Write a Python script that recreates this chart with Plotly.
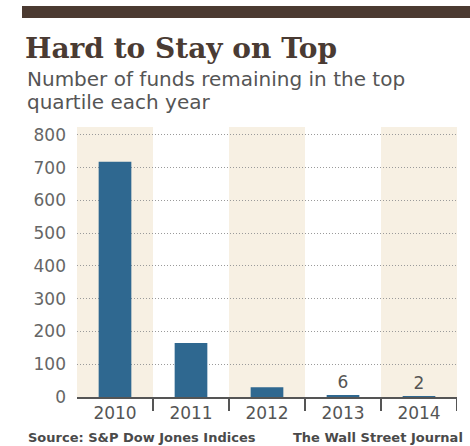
import plotly.graph_objects as go

years = ["2010", "2011", "2012", "2013", "2014"]
funds = [718, 165, 30, 6, 2]
bar_labels = ["", "", "", "6", "2"]
y_ticks = [0, 100, 200, 300, 400, 500, 600, 700, 800]

W_PX, H_PX = 470, 446
L, R, T, B = 77, 457, 127, 397


def px_x(p):
    return (p - L) / (R - L)


def px_y(p):
    return (B - p) / (B - T)


fig = go.Figure()
fig.add_trace(go.Bar(
    x=years, y=funds, width=0.43,
    marker=dict(color="#2f6890", line=dict(width=0)),
    text=bar_labels, textposition="outside", cliponaxis=False,
    textfont=dict(family="DejaVu Sans", size=17, color="#555555"),
    hoverinfo="skip",
))

shapes = []
for i, yr in enumerate(years):
    if i % 2 == 0:
        shapes.append(dict(type="rect", xref="x", yref="paper", x0=i - 0.5, x1=i + 0.5,
                           y0=0, y1=1, fillcolor="#f7f0e3", line=dict(width=0), layer="below"))
for i in range(len(years)):
    shapes.append(dict(type="line", xref="x", yref="paper", x0=i + 0.5, x1=i + 0.5,
                       y0=0, y1=px_y(411), line=dict(color="#555555", width=2)))
shapes.append(dict(type="rect", xref="paper", yref="paper", x0=px_x(22), x1=px_x(470),
                   y0=px_y(18), y1=px_y(6), fillcolor="#4b3a31", line=dict(width=0)))

annotations = [
    dict(text="<b>Hard to Stay on Top</b>", xref="paper", yref="paper", x=px_x(23), y=px_y(48),
         xanchor="left", yanchor="middle", showarrow=False,
         font=dict(family="DejaVu Serif", size=28, color="#4a3b33")),
    dict(text="Number of funds remaining in the top", xref="paper", yref="paper",
         x=px_x(25), y=px_y(79), xanchor="left", yanchor="middle", showarrow=False,
         font=dict(family="DejaVu Sans", size=20, color="#555555")),
    dict(text="quartile each year", xref="paper", yref="paper",
         x=px_x(25), y=px_y(102), xanchor="left", yanchor="middle", showarrow=False,
         font=dict(family="DejaVu Sans", size=20, color="#555555")),
    dict(text="<b>Source: S&P Dow Jones Indices</b>", xref="paper", yref="paper", x=px_x(26),
         y=px_y(437), xanchor="left", yanchor="middle", showarrow=False,
         font=dict(family="DejaVu Sans", size=13, color="#4a4a4a")),
    dict(text="<b>The Wall Street Journal</b>", xref="paper", yref="paper", x=px_x(465),
         y=px_y(437), xanchor="right", yanchor="middle", showarrow=False,
         font=dict(family="DejaVu Sans", size=13, color="#4a4a4a")),
]

fig.update_layout(
    width=W_PX, height=H_PX,
    margin=dict(l=L, r=W_PX - R, t=T, b=H_PX - B, pad=0),
    paper_bgcolor="white", plot_bgcolor="rgba(0,0,0,0)",
    showlegend=False, shapes=shapes, annotations=annotations,
)
fig.update_xaxes(type="category", range=[-0.5, 4.5], showgrid=False, showline=True,
                 linecolor="#555555", linewidth=2, ticks="", zeroline=False,
                 tickfont=dict(family="DejaVu Sans", size=17, color="#555555"))
fig.update_yaxes(range=[0, 824], tickvals=y_ticks, showgrid=True, gridcolor="#9a9a9a",
                 griddash="1px,2px", gridwidth=1, zeroline=False, showline=False, ticks="",
                 ticklabelstandoff=10,
                 tickfont=dict(family="DejaVu Sans", size=17, color="#666666"))

fig.write_html("out.html", config={"displayModeBar": False},
               post_script="document.body.style.margin='0';")
